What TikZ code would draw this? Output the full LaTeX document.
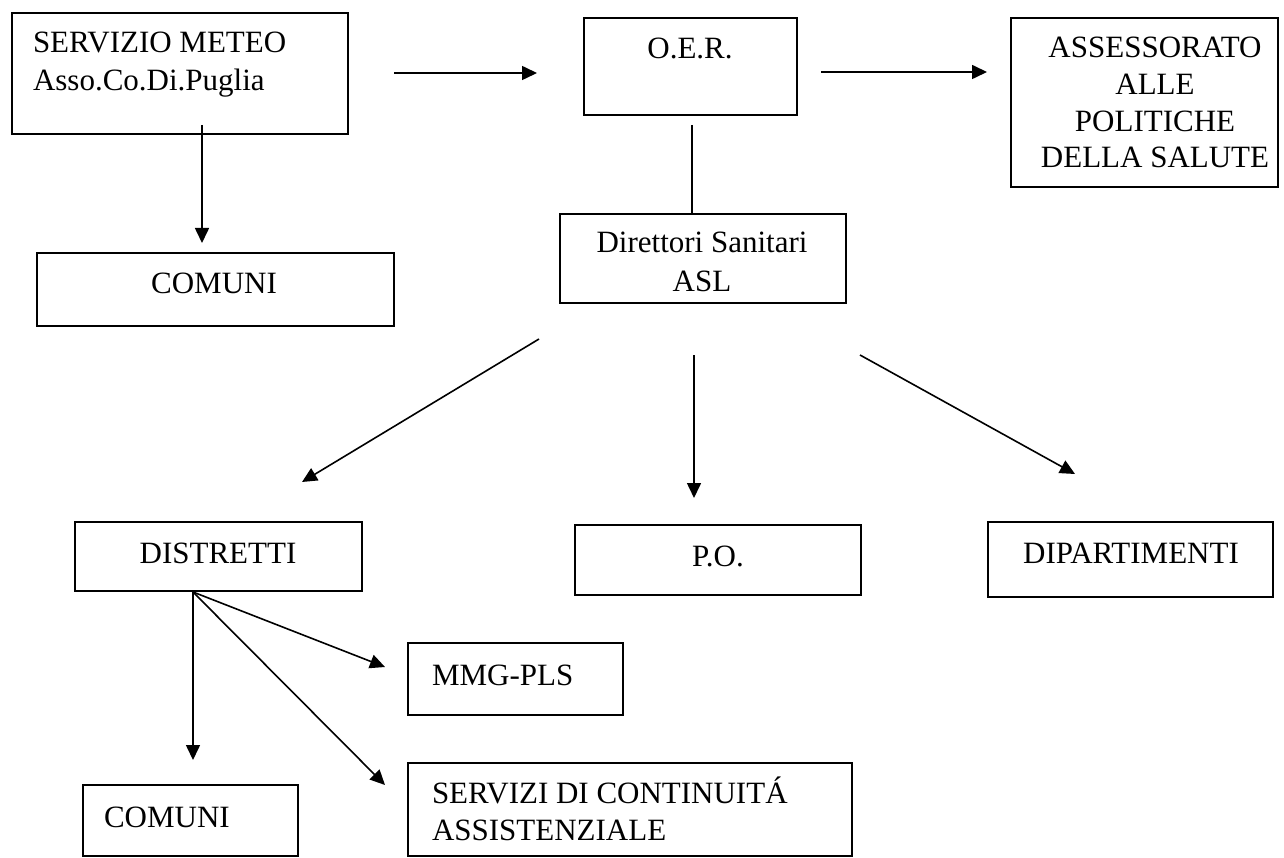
\documentclass[tikz,border=0pt]{standalone}
\usepackage{fontspec}
\setmainfont{Liberation Serif}
\usetikzlibrary{arrows.meta}
\begin{document}
\begin{tikzpicture}[x=1pt,y=-1pt,
  box/.style={draw, line width=1.8pt, inner sep=0pt, outer sep=0pt, anchor=north west},
  txt/.style={inner sep=0pt, outer sep=0pt, font=\fontsize{31}{37.5}\selectfont},
  conn/.style={line width=1.6pt},
  arr/.style={conn, -{Triangle[length=15pt,width=14pt]}}]
\useasboundingbox[fill=white] (0,0) rectangle (1284,858);
% boxes
\node[box, minimum width=336pt, minimum height=121pt] (meteo) at (12,13) {};
\node[box, minimum width=213pt, minimum height=97pt] (oer) at (584,18) {};
\node[box, minimum width=267pt, minimum height=169pt] (assess) at (1011,18) {};
\node[box, minimum width=357pt, minimum height=73pt] (comuni1) at (37,253) {};
\node[box, minimum width=286pt, minimum height=89pt] (dirett) at (560,214) {};
\node[box, minimum width=287pt, minimum height=69pt] (distretti) at (75,522) {};
\node[box, minimum width=286pt, minimum height=70pt] (po) at (575,525) {};
\node[box, minimum width=285pt, minimum height=75pt] (dipart) at (988,522) {};
\node[box, minimum width=215pt, minimum height=72pt] (mmg) at (408,643) {};
\node[box, minimum width=444pt, minimum height=93pt] (servizi) at (408,763) {};
\node[box, minimum width=215pt, minimum height=71pt] (comuni2) at (83,785) {};
% texts
\node[txt, anchor=base west] (meteo1) at (33,53) {SERVIZIO METEO};
\node[txt, anchor=base west] (meteo2) at (33,91) {Asso.Co.Di.Puglia};
\node[txt, anchor=base] (oert) at (690,59) {O.E.R.};
\node[txt, anchor=base] (as1) at (1155,58) {ASSESSORATO};
\node[txt, anchor=base] (as2) at (1155,95) {ALLE};
\node[txt, anchor=base] (as3) at (1155,132) {POLITICHE};
\node[txt, anchor=base] (as4) at (1155,168) {DELLA SALUTE};
\node[txt, anchor=base] (com1t) at (214,294) {COMUNI};
\node[txt, anchor=base] (dir1) at (702,253) {Direttori Sanitari};
\node[txt, anchor=base] (dir2) at (702,292) {ASL};
\node[txt, anchor=base] (distt) at (218,563) {DISTRETTI};
\node[txt, anchor=base] (pot) at (718,566) {P.O.};
\node[txt, anchor=base] (dipt) at (1131,563) {DIPARTIMENTI};
\node[txt, anchor=base west] (mmgt) at (432,685) {MMG-PLS};
\node[txt, anchor=base west] (serv1) at (432,803) {SERVIZI DI CONTINUITÁ};
\node[txt, anchor=base west] (serv2) at (432,840) {ASSISTENZIALE};
\node[txt, anchor=base west] (com2t) at (104,827) {COMUNI};
% connector end points
\coordinate (a1s) at (394,73);  \coordinate (a1e) at (537,73);
\coordinate (a2s) at (821,72);  \coordinate (a2e) at (987,72);
\coordinate (a3s) at (202,125); \coordinate (a3e) at (202,243);
\coordinate (l1s) at (692,125); \coordinate (l1e) at (692,213);
\coordinate (a4s) at (539,339); \coordinate (a4e) at (302,482);
\coordinate (a5s) at (694,355); \coordinate (a5e) at (694,498);
\coordinate (a6s) at (860,355); \coordinate (a6e) at (1075,474);
\coordinate (dsrc) at (193,592);
\coordinate (a7e) at (193,760);
\coordinate (a8e) at (385,667);
\coordinate (a9e) at (385,785);
% connectors
\draw[arr] (a1s) -- (a1e);
\draw[arr] (a2s) -- (a2e);
\draw[arr] (a3s) -- (a3e);
\draw[conn] (l1s) -- (l1e);
\draw[arr] (a4s) -- (a4e);
\draw[arr] (a5s) -- (a5e);
\draw[arr] (a6s) -- (a6e);
\draw[arr] (dsrc) -- (a7e);
\draw[arr] (dsrc) -- (a8e);
\draw[arr] (dsrc) -- (a9e);
\end{tikzpicture}
\end{document}
